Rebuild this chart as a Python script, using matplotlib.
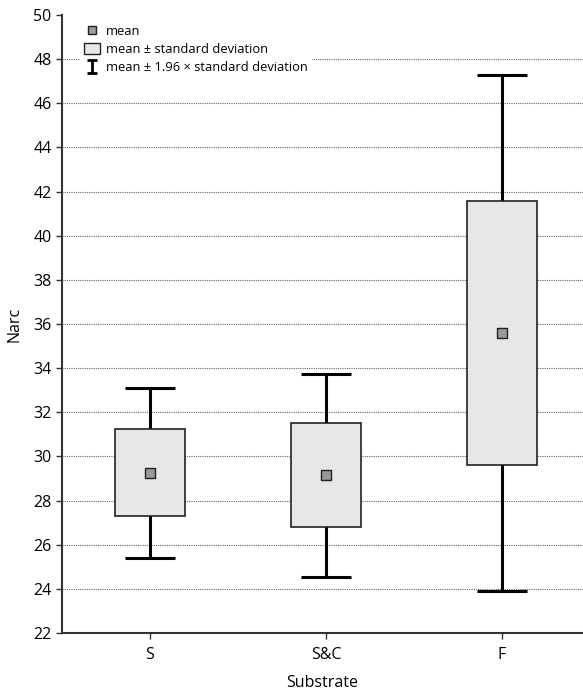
import matplotlib.pyplot as plt
from matplotlib.lines import Line2D
from matplotlib.patches import Patch
import numpy as np

plt.rcParams['font.family'] = ['Open Sans', 'DejaVu Sans']

substrates = ["S", "S&C", "F"]
means = [29.25, 29.15, 35.6]
std_devs = [1.97, 2.35, 5.97]

means = np.array(means)
std_devs = np.array(std_devs)
x = np.arange(len(substrates))

fig = plt.figure(figsize=(5.83, 6.94), dpi=100)
ax = fig.add_axes([0.1063, 0.0879, 0.8937, 0.8905])

# whiskers: mean +/- 1.96 sd
ax.errorbar(x, means, yerr=1.96 * std_devs, fmt="none", ecolor="black",
            elinewidth=2.2, capsize=18, capthick=2.2, zorder=2)
# boxes: mean +/- sd
ax.bar(x, 2 * std_devs, bottom=means - std_devs, width=0.4, color="#e6e7e8",
       edgecolor="#222222", linewidth=1.2, zorder=3)
ax.scatter(x, means, marker="s", s=45, color="#999999", edgecolor="#222222",
           linewidth=1.0, zorder=4)

# small errorbar only used as legend handle
err_handle = ax.errorbar([np.nan], [np.nan], yerr=[1.0], fmt="none", ecolor="black",
                         elinewidth=2.0, capsize=3.5, capthick=2.0)

ax.set_xlim(-0.5, 2.46)
ax.set_ylim(22, 50)
ax.set_yticks(np.arange(22, 51, 2))
ax.set_xticks(x)
ax.set_xticklabels(substrates)
for yv in np.arange(24, 49, 2):
    ax.axhline(yv, color="#666666", linestyle=(0, (1, 1)), linewidth=0.8, zorder=1)

for s in ["top", "right"]:
    ax.spines[s].set_visible(False)
for s in ["left", "bottom"]:
    ax.spines[s].set_color("#333333")
    ax.spines[s].set_linewidth(1.5)
ax.tick_params(axis="both", direction="out", length=4, width=1.0, color="#333333",
               labelsize=11.5)
ax.tick_params(axis="x", pad=6)

ax.set_xlabel("Substrate", fontsize=11.5, labelpad=9)
ax.set_ylabel("Narc", fontsize=11.5, labelpad=8)

handles = [
    Line2D([], [], marker="s", linestyle="none", markersize=6, markerfacecolor="#999999",
           markeredgecolor="#222222"),
    Patch(facecolor="#e6e7e8", edgecolor="#222222", linewidth=1.0),
    err_handle,
]
labels = ["mean", "mean \u00b1 standard deviation", "mean \u00b1 1.96 \u00d7 standard deviation"]
leg = ax.legend(handles, labels, loc="upper left", bbox_to_anchor=(0.035, 0.99),
                fontsize=9.3, frameon=True, edgecolor="none", facecolor="white",
                framealpha=1, handlelength=1.2, handleheight=0.9, handletextpad=0.5,
                labelspacing=0.4, borderaxespad=0, borderpad=0.3)
leg.set_zorder(5)

fig.savefig("out.png", dpi=100)
